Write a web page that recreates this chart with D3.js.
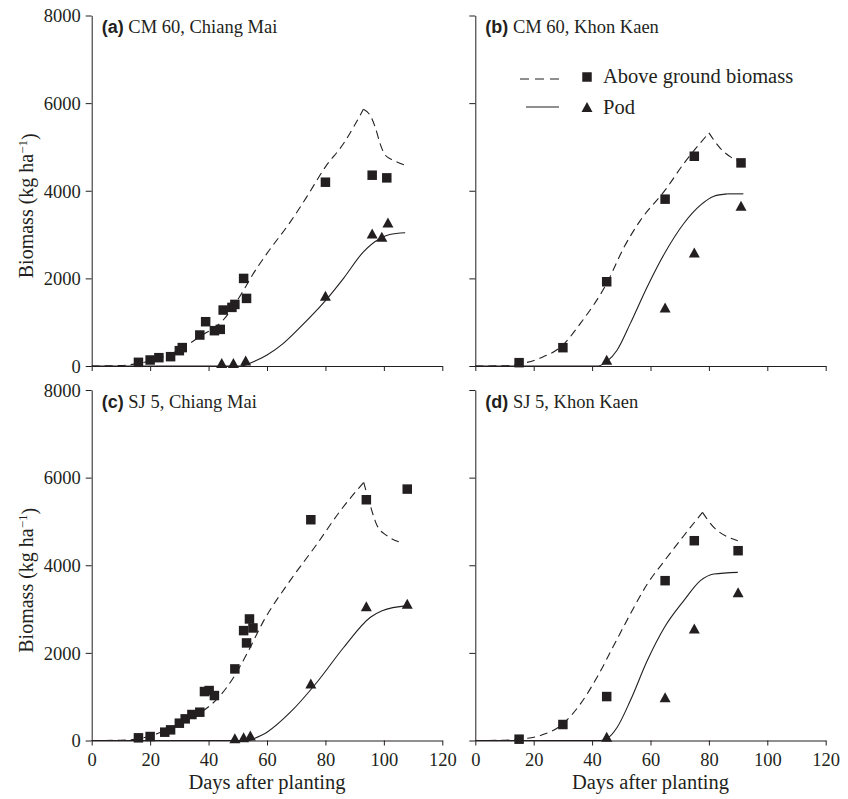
<!DOCTYPE html>
<html>
<head>
<meta charset="utf-8">
<script src="https://cdn.jsdelivr.net/npm/d3@7"></script>
<style>
  body { margin: 0; background: #fff; }
  svg { display: block; }
  text { font-family: "Liberation Serif", "Times New Roman", Times, serif; }
</style>
</head>
<body>
<svg id="chart" width="848" height="799"></svg>
<script>
// ---------------- DATA ----------------
const xTicks = [0, 20, 40, 60, 80, 100, 120];
const yTicks = [0, 2000, 4000, 6000, 8000];
const panelTitles = ["(a)", "(b)", "(c)", "(d)"];
const panelNames = ["CM 60, Chiang Mai", "CM 60, Khon Kaen", "SJ 5, Chiang Mai", "SJ 5, Khon Kaen"];
const legendLabels = ["Above ground biomass", "Pod"];
const xLabel = "Days after planting";

// (a) CM 60, Chiang Mai
const aBiomassObsDay = [16, 20, 23, 27, 30, 31, 37, 39, 42, 44, 45, 48, 49, 52, 53, 80, 96, 101];
const aBiomassObs = [84, 137, 190, 213, 350, 420, 707, 1011, 806, 836, 1277, 1338, 1406, 1999, 1543, 4195, 4355, 4294];
const aPodObsDay = [44.5, 48.5, 52.7, 80, 96, 99.3, 101.4];
const aPodObs = [45, 45, 100, 1580, 3000, 2926, 3250];
const aBiomassSimDay = [0, 10, 16, 22, 30.5, 37, 45, 52, 55, 60, 68, 73.6, 80, 86.2, 93, 95.3, 97, 98.7, 100.5, 103.3, 107.3];
const aBiomassSim = [0, 10, 60, 150, 388, 670, 1050, 1730, 2075, 2570, 3290, 3860, 4545, 5077, 5860, 5720, 5457, 5077, 4810, 4697, 4583];
const aPodSimDay = [0, 51, 53, 55.4, 60, 65.6, 71.3, 80, 86.2, 93, 98.7, 102, 107.3];
const aPodSim = [0, 0, 30, 99, 250, 517, 880, 1490, 2000, 2605, 2910, 3000, 3040];

// (b) CM 60, Khon Kaen
const bBiomassObsDay = [15, 30, 45, 65, 75, 91];
const bBiomassObs = [76, 418, 1923, 3808, 4788, 4636];
const bPodObsDay = [45, 65, 75, 91];
const bPodObs = [120, 1315, 2569, 3633];
const bBiomassSimDay = [0, 10, 15, 22, 30, 36, 45, 51, 56.6, 65, 71.4, 80, 84, 87.4, 91.8];
const bBiomassSim = [0, 5, 45, 175, 480, 973, 1885, 2720, 3330, 4013, 4620, 5320, 4963, 4773, 4659];
const bPodSimDay = [0, 42, 45, 48.6, 53.1, 58.9, 64.8, 71.4, 77.1, 81.7, 86.3, 91.8];
const bPodSim = [0, 0, 99, 365, 973, 1809, 2569, 3253, 3671, 3876, 3929, 3929];

// (c) SJ 5, Chiang Mai
const cBiomassObsDay = [16, 20, 25, 27, 30, 32, 34.3, 37, 38.6, 40.2, 42, 49, 52, 53, 54, 55.2, 75, 94, 108];
const cBiomassObs = [61, 91, 190, 243, 395, 494, 593, 646, 1117, 1140, 1026, 1634, 2508, 2227, 2774, 2569, 5039, 5495, 5738];
const cPodObsDay = [49, 52, 54.3, 75, 94, 108];
const cPodObs = [30, 50, 90, 1277, 3040, 3100];
const cBiomassSimDay = [0, 10, 16, 22.3, 29, 37, 44, 48.6, 53.1, 58.9, 67.9, 77.1, 85.1, 93.1, 95.2, 97.7, 101.1, 105.1];
const cBiomassSim = [0, 5, 38, 152, 342, 623, 1026, 1444, 1976, 2736, 3648, 4484, 5244, 5890, 5396, 4902, 4674, 4537];
const cPodSimDay = [0, 54, 55.4, 60, 68, 77.1, 86.3, 95.4, 99.4, 108.2];
const cPodSim = [0, 0, 38, 190, 646, 1330, 2128, 2812, 2964, 3078];

// (d) SJ 5, Khon Kaen
const dBiomassObsDay = [15, 30, 45, 65, 75, 90];
const dBiomassObs = [30, 365, 1003, 3648, 4560, 4332];
const dPodObsDay = [45, 65, 75, 90];
const dPodObs = [61, 965, 2531, 3359];
const dBiomassSimDay = [0, 10, 15, 22.3, 30, 36, 41.7, 47.4, 53.1, 58.9, 64.8, 71.4, 77.8, 81.7, 86.3, 89.9];
const dBiomassSim = [0, 5, 30, 114, 380, 836, 1444, 2166, 2888, 3572, 4104, 4674, 5206, 4864, 4650, 4560];
const dPodSimDay = [0, 43, 45, 48.6, 53.1, 58.9, 64.8, 71.4, 77.1, 81.7, 89.9];
const dPodSim = [0, 0, 38, 304, 912, 1824, 2584, 3192, 3648, 3800, 3838];

// ---------------- LAYOUT ----------------
const ink = "#231f20";
const serif = "'Liberation Serif', 'Times New Roman', Times, serif";
const sans = "'Liberation Sans', Arial, Helvetica, sans-serif";

const zip = (xs, ys) => xs.map((x, i) => [x, ys[i]]);

const panels = [
  { bio: zip(aBiomassObsDay, aBiomassObs), pod: zip(aPodObsDay, aPodObs), bioSim: zip(aBiomassSimDay, aBiomassSim), podSim: zip(aPodSimDay, aPodSim), col: 0, row: 0 },
  { bio: zip(bBiomassObsDay, bBiomassObs), pod: zip(bPodObsDay, bPodObs), bioSim: zip(bBiomassSimDay, bBiomassSim), podSim: zip(bPodSimDay, bPodSim), col: 1, row: 0 },
  { bio: zip(cBiomassObsDay, cBiomassObs), pod: zip(cPodObsDay, cPodObs), bioSim: zip(cBiomassSimDay, cBiomassSim), podSim: zip(cPodSimDay, cPodSim), col: 0, row: 1 },
  { bio: zip(dBiomassObsDay, dBiomassObs), pod: zip(dPodObsDay, dPodObs), bioSim: zip(dBiomassSimDay, dBiomassSim), podSim: zip(dPodSimDay, dPodSim), col: 1, row: 1 },
];

const xRanges = [[91.7, 442.3], [475.3, 825.7]];
const yRanges = [[366, 15.5], [740.5, 390]];

const svg = d3.select("#chart");

const squarePath = (s) => `M${-s/2},${-s/2}h${s}v${s}h${-s}Z`;
const triPath = (w, h) => `M0,${-h*0.6}L${w/2},${h*0.4}L${-w/2},${h*0.4}Z`;

panels.forEach((p, i) => {
  const x = d3.scaleLinear().domain([0, 120]).range(xRanges[p.col]);
  const y = d3.scaleLinear().domain([0, 8000]).range(yRanges[p.row]);
  const g = svg.append("g");

  // axes
  const xAxis = d3.axisBottom(x).tickValues(xTicks).tickFormat(d3.format("d")).tickSize(5).tickSizeOuter(0).tickPadding(4);
  const gx = g.append("g").attr("transform", `translate(0,${y(0)})`).call(xAxis);
  const yAxis = d3.axisLeft(y).tickValues(yTicks).tickFormat(d3.format("d")).tickSize(6).tickSizeOuter(0).tickPadding(5);
  const gy = g.append("g").attr("transform", `translate(${x(0)},0)`).call(yAxis);
  [gx, gy].forEach(a => {
    a.attr("font-family", serif).attr("font-size", 18.5);
    a.selectAll("path, line").attr("stroke", ink).attr("stroke-width", 1);
    a.selectAll("text").attr("fill", ink).style("font-family", serif).style("font-size", "18.5px");
  });
  if (p.row === 0) gx.selectAll("text").remove();
  else gx.selectAll("text").attr("dy", "0.9em");
  if (p.col === 1) gy.selectAll("text").remove();
  else gy.selectAll("text").attr("dy", "0.34em");

  // simulated lines: split at the peak so the cusp stays sharp
  const line = d3.line().x(d => x(d[0])).y(d => y(d[1])).curve(d3.curveMonotoneX);
  const drawSim = (data, dash) => {
    const iMax = d3.maxIndex(data, d => d[1]);
    const parts = iMax < data.length - 1 ? [data.slice(0, iMax + 1), data.slice(iMax)] : [data];
    parts.forEach(part => {
      g.append("path").datum(part).attr("d", line)
        .attr("fill", "none").attr("stroke", ink).attr("stroke-width", 1.1)
        .attr("stroke-dasharray", dash);
    });
  };
  drawSim(p.bioSim, "8,5");
  drawSim(p.podSim, null);

  // observations
  g.selectAll(null).data(p.bio).join("path")
    .attr("d", squarePath(9.5))
    .attr("transform", d => `translate(${x(d[0])},${y(d[1])})`)
    .attr("fill", ink);
  g.selectAll(null).data(p.pod).join("path")
    .attr("d", triPath(11, 10))
    .attr("transform", d => `translate(${x(d[0])},${y(d[1])})`)
    .attr("fill", ink);

  // panel title
  const t = g.append("text").attr("x", x(0) + 10).attr("y", y(8000) + 17.5)
    .attr("fill", ink);
  t.append("tspan").text(panelTitles[i]).style("font-family", sans).style("font-weight", "bold").style("font-size", "18px");
  t.append("tspan").text(" " + panelNames[i]).style("font-family", serif).style("font-size", "18.5px");

  // x label for bottom panels
  if (p.row === 1) {
    g.append("text").attr("x", (xRanges[p.col][0] + xRanges[p.col][1]) / 2).attr("y", 789)
      .attr("text-anchor", "middle").attr("fill", ink)
      .style("font-family", serif).style("font-size", "20.5px").text(xLabel);
  }
  // y label for left panels
  if (p.col === 0) {
    const cy = (yRanges[p.row][0] + yRanges[p.row][1]) / 2 + 15;
    const yl = g.append("text").attr("transform", `translate(33,${cy}) rotate(-90)`)
      .attr("text-anchor", "middle").attr("fill", ink)
      .style("font-family", serif).style("font-size", "20px");
    yl.append("tspan").text("Biomass (kg ha");
    yl.append("tspan").text("\u22121").attr("dy", "-0.45em").style("font-size", "13px");
    yl.append("tspan").text(")").attr("dy", "0.45em");
  }

  // legend in panel (b)
  if (i === 1) {
    const lg = g.append("g");
    lg.append("line").attr("x1", 520).attr("x2", 559).attr("y1", 79).attr("y2", 79)
      .attr("stroke", ink).attr("stroke-width", 1.1).attr("stroke-dasharray", "9,6");
    lg.append("path").attr("d", squarePath(9.5)).attr("transform", "translate(587,77)").attr("fill", ink);
    lg.append("text").attr("x", 603).attr("y", 83).attr("fill", ink)
      .style("font-family", serif).style("font-size", "20.5px").text(legendLabels[0]);
    lg.append("line").attr("x1", 526).attr("x2", 559).attr("y1", 107).attr("y2", 107)
      .attr("stroke", ink).attr("stroke-width", 1.1);
    lg.append("path").attr("d", triPath(11, 10)).attr("transform", "translate(587,108)").attr("fill", ink);
    lg.append("text").attr("x", 603).attr("y", 114).attr("fill", ink)
      .style("font-family", serif).style("font-size", "20.5px").text(legendLabels[1]);
  }
});
</script>
</body>
</html>
